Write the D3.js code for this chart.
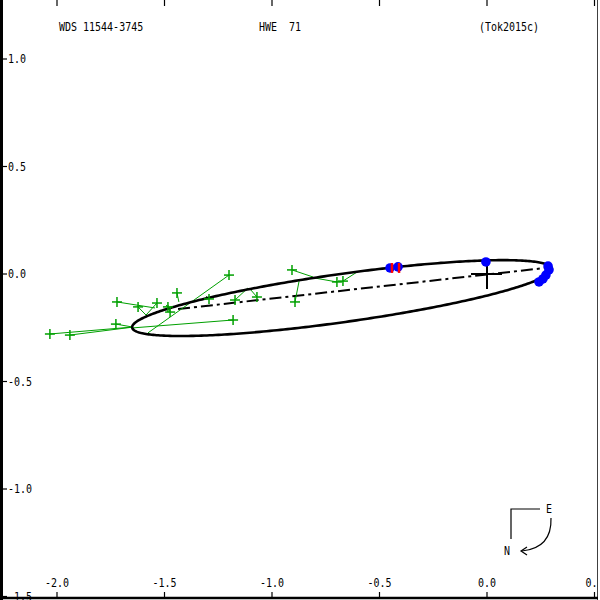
<!DOCTYPE html>
<html><head><meta charset="utf-8">
<script src="https://cdn.jsdelivr.net/npm/d3@7"></script>
<style>body{margin:0;background:#fff}svg{display:block}text{white-space:pre}</style>
</head><body>
<script>
// ---- data ----
const titleLeft = "WDS 11544-3745";
const titleMid = "HWE  71";
const titleRight = "(Tok2015c)";
const xTicks = [-2.0, -1.5, -1.0, -0.5, 0.0, 0.5];
const xTickLabels = ["-2.0", "-1.5", "-1.0", "-0.5", "0.0", "0.5"];
const yTicks = [1.0, 0.5, 0.0, -0.5, -1.0, -1.5];
const yTickLabels = ["1.0", "0.5", "0.0", "-0.5", "-1.0", "-1.5"];

// apparent orbit ellipse (arcsec)
const orbitCenter = [-0.674, -0.112];
const orbitA = 0.986;
const orbitB = 0.112;
const orbitAngleDeg = 8;
// line of nodes end points
const nodeLine = [[-1.437, -0.163], [0.270, 0.028]];

// micrometric / visual measurements (green) and their predicted positions
const visualObs = [
  [-2.033, -0.279], [-1.940, -0.284], [-1.726, -0.233], [-1.721, -0.130],
  [-1.623, -0.153], [-1.535, -0.135], [-1.484, -0.153], [-1.474, -0.177],
  [-1.442, -0.088], [-1.293, -0.116], [-1.200, -0.005], [-1.181, -0.214],
  [-1.172, -0.121], [-1.070, -0.107], [-0.907, 0.019], [-0.893, -0.130],
  [-0.698, -0.037], [-0.670, -0.033]
];
const visualPred = [
  [-1.651, -0.247], [-1.647, -0.247], [-1.647, -0.247], [-1.544, -0.158],
  [-1.586, -0.191], [-1.586, -0.191], [-1.493, -0.144], [-1.484, -0.144],
  [-1.433, -0.130], [-1.307, -0.102], [-1.577, -0.274], [-1.651, -0.251],
  [-1.112, -0.065], [-1.102, -0.070], [-0.809, -0.014], [-0.874, -0.033],
  [-0.800, -0.019], [-0.600, 0.012]
];
// interferometric measurements (blue)
const speckleObs = [
  [-0.451, 0.028], [-0.414, 0.033], [-0.005, 0.056],
  [0.284, 0.037], [0.288, 0.019], [0.274, -0.005], [0.260, -0.023], [0.242, -0.037]
];
// residual segments (red)
const speckleResidFrom = [[-0.442, 0.051], [-0.409, 0.051]];
const speckleResidTo = [[-0.442, 0.005], [-0.409, 0.005]];

// ---- chart ----
const W = 600, H = 600;
const svg = d3.select("body").append("svg").attr("width", W).attr("height", H)
  .style("font-family", "'DejaVu Sans Mono', monospace");
const x = d3.scaleLinear().domain([-2.0, 0.5]).range([57, 594.5]);
const y = d3.scaleLinear().domain([1.0, -1.5]).range([59, 596.5]);
const green = "#00a000";

// text helper (tall narrow font)
function label(g, tx, ty, str, anchor) {
  g.append("text").attr("transform", `translate(${tx},${ty}) scale(1,1.2)`)
    .attr("text-anchor", anchor || "start").attr("font-size", 10)
    .attr("xml:space", "preserve")
    .attr("fill", "#000").text(str);
}

// titles
label(svg, 59, 31, titleLeft);
label(svg, 259, 31, titleMid);
label(svg, 479, 31, titleRight);

// axis tick labels
xTicks.forEach((t, i) => label(svg, x(t), 587, xTickLabels[i], "middle"));
yTicks.forEach((t, i) => label(svg, 8, y(t) + 4, yTickLabels[i], "start"));

// ticks
const tk = svg.append("g").attr("stroke", "#000").attr("stroke-width", 1.2);
xTicks.forEach(t => {
  tk.append("line").attr("x1", x(t)).attr("x2", x(t)).attr("y1", 0).attr("y2", 6);
  tk.append("line").attr("x1", x(t)).attr("x2", x(t)).attr("y1", 592).attr("y2", 598);
});
yTicks.forEach(t => {
  tk.append("line").attr("x1", 2).attr("x2", 7).attr("y1", y(t)).attr("y2", y(t));
});

// orbit ellipse
const th = orbitAngleDeg * Math.PI / 180;
const orbitPts = d3.range(0, 361).map(k => {
  const t = k * Math.PI / 180;
  return [
    orbitCenter[0] + orbitA * Math.cos(t) * Math.cos(th) - orbitB * Math.sin(t) * Math.sin(th),
    orbitCenter[1] + orbitA * Math.cos(t) * Math.sin(th) + orbitB * Math.sin(t) * Math.cos(th)
  ];
});
const line = d3.line().x(d => x(d[0])).y(d => y(d[1]));

// line of nodes
svg.append("path").attr("d", line(nodeLine)).attr("fill", "none")
  .attr("stroke", "#000").attr("stroke-width", 2).attr("stroke-dasharray", "12,4,3,4");

// green O-C lines
svg.append("g").selectAll("line").data(visualObs).join("line")
  .attr("x1", d => x(d[0])).attr("y1", d => y(d[1]))
  .attr("x2", (d, i) => x(visualPred[i][0])).attr("y2", (d, i) => y(visualPred[i][1]))
  .attr("stroke", green).attr("stroke-width", 1);

svg.append("path").attr("d", line(orbitPts)).attr("fill", "none")
  .attr("stroke", "#000").attr("stroke-width", 2.6);

// green plus markers
const pl = svg.append("g").attr("stroke", green).attr("stroke-width", 1.5);
visualObs.forEach(d => {
  pl.append("line").attr("x1", x(d[0]) - 5).attr("x2", x(d[0]) + 5).attr("y1", y(d[1])).attr("y2", y(d[1]));
  pl.append("line").attr("x1", x(d[0])).attr("x2", x(d[0])).attr("y1", y(d[1]) - 5).attr("y2", y(d[1]) + 5);
});

// primary star cross
const cr = svg.append("g").attr("stroke", "#000").attr("stroke-width", 2);
cr.append("line").attr("x1", x(0) - 16).attr("x2", x(0) + 15).attr("y1", y(0)).attr("y2", y(0));
cr.append("line").attr("x1", x(0)).attr("x2", x(0)).attr("y1", y(0) - 11).attr("y2", y(0) + 15);

// blue dots
svg.append("g").selectAll("circle").data(speckleObs).join("circle")
  .attr("cx", d => x(d[0])).attr("cy", d => y(d[1])).attr("r", 4.8).attr("fill", "#0000ff");

// red residuals
svg.append("g").selectAll("line").data(speckleResidFrom).join("line")
  .attr("x1", d => x(d[0])).attr("y1", d => y(d[1]))
  .attr("x2", (d, i) => x(speckleResidTo[i][0])).attr("y2", (d, i) => y(speckleResidTo[i][1]))
  .attr("stroke", "#ff0000").attr("stroke-width", 2.5);

// compass
const cp = svg.append("g").attr("stroke", "#000").attr("fill", "none").attr("stroke-width", 1.2);
cp.append("path").attr("d", "M511,539 L511,509 L540,509");
cp.append("path").attr("d", "M551,518 Q552,548 522,551");
cp.append("path").attr("d", "M527,547 L521,551 L527,555");
label(svg, 549, 513, "E", "middle");
label(svg, 507, 555, "N", "middle");

// frame
const fr = svg.append("g").attr("stroke", "#000");
fr.append("line").attr("x1", 1.5).attr("x2", 1.5).attr("y1", 0).attr("y2", 600).attr("stroke-width", 3);
fr.append("line").attr("x1", 0).attr("x2", 600).attr("y1", 598).attr("y2", 598).attr("stroke-width", 2.5);
svg.append("rect").attr("x", 598).attr("y", 0).attr("width", 2).attr("height", 600).attr("fill", "#fff");
fr.append("line").attr("x1", 598).attr("x2", 598).attr("y1", 0).attr("y2", 600).attr("stroke-width", 1.5);
</script>
</body></html>
